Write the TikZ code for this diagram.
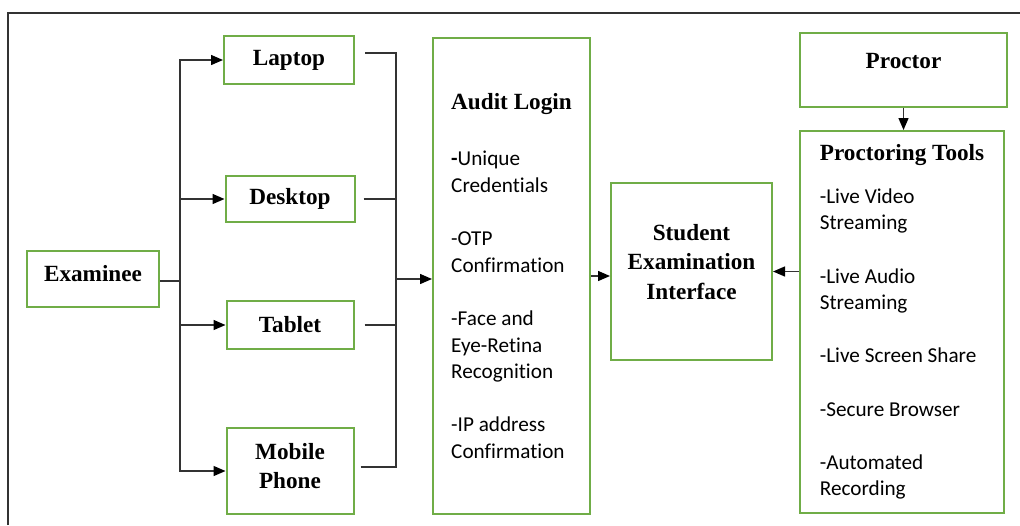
\documentclass[tikz,border=0pt]{standalone}
\usepackage{fontspec}
\setmainfont{Liberation Serif}
\newfontfamily\listfont{Carlito}[Ligatures=NoCommon]
\usetikzlibrary{arrows.meta}
\definecolor{boxgreen}{HTML}{70AD47}
\definecolor{linegray}{HTML}{333333}
\newcommand\headfont{\rmfamily\bfseries\fontsize{11.6}{14.6}\selectfont}

\begin{document}
\begin{tikzpicture}[x=0.5pt,y=-0.5pt,>={Triangle[length=6pt,width=5pt,color=black]},
                    main node/.style={draw=boxgreen,line width=1pt,inner sep=2pt,
                      font=\headfont,align=center},
                    list node/.style={main node,align=left,
                      font=\listfont\fontsize{10.6}{13.3}\selectfont},
                    link/.style={draw=linegray,line width=0.7pt}]
  \useasboundingbox (0,0) rectangle (1020,525);
  \draw[linegray,line width=0.75pt] (8,525) |- (1020,13);

  % sources and devices
  \node[main node,minimum width=66pt,minimum height=28pt,text depth=6pt] (examinee) at (93,279) {Examinee};
  \node[main node,minimum width=65pt,minimum height=24pt] (laptop) at (289,60) {Laptop};
  \node[main node,minimum width=64.5pt,minimum height=23pt] (desktop) at (290,199) {Desktop};
  \node[main node,minimum width=63.5pt,minimum height=24pt] (tablet) at (290,325) {Tablet};
  \node[main node,minimum width=63.5pt,minimum height=43pt,text depth=5pt] (mobile) at (290,471) {Mobile\\Phone};

  % login and interface
  \node[list node,minimum width=78.5pt,minimum height=238pt] (audit) at (511.5,276)
    {{\headfont Audit Login}\\[15pt]
     \textbf{-}Unique\\ Credentials\\[13.3pt]
     -OTP\\ Confirmation\\[13.3pt]
     -Face and\\ Eye-Retina\\ Recognition\\[13.3pt]
     -IP address\\ Confirmation};
  \node[main node,minimum width=80.5pt,minimum height=88.5pt,text depth=10pt,
        font=\rmfamily\bfseries\fontsize{11.6}{14.75}\selectfont] (iface) at (691.5,271.5)
    {Student\\Examination\\Interface};

  % proctor side
  \node[main node,minimum width=103.5pt,minimum height=37pt,text depth=9pt] (proctor) at (903.5,69.5) {Proctor};
  \node[list node,minimum width=102pt,minimum height=191pt] (tools) at (902,322)
    {{\headfont Proctoring Tools}\\[8pt]
     -Live Video\\ Streaming\\[13.3pt]
     -Live Audio\\ Streaming\\[13.3pt]
     -Live Screen Share\\[13.3pt]
     -Secure Browser\\[13.3pt]
     -Automated\\ Recording};

  \coordinate (split) at (180,281);
  \coordinate (merge) at (396,279);

  \draw[link] (examinee.east |- split) -- (split);
  \draw[link,->] (split) |- (laptop.west);
  \draw[link,->] (split) |- (desktop.west);
  \draw[link,->] (split) |- (tablet.west);
  \draw[link,->] (split) |- (mobile.west);

  \draw[link,shorten <=5pt] ([yshift=3.5pt]laptop.east) -| (merge);
  \draw[link,shorten <=4pt] (desktop.east) -| (merge);
  \draw[link,shorten <=5pt] (tablet.east) -| (merge);
  \draw[link,shorten <=3pt] ([yshift=2pt]mobile.east) -| (merge);
  \draw[link,->] (merge) -- (merge -| audit.west);

  \draw[link,->] (audit.east) -- (audit.east -| iface.west);
  \draw[link,->] (tools.west |- iface.east) -- (iface.east);
  \draw[link,->] (proctor.south) -- (proctor.south |- tools.north);
\end{tikzpicture}
\end{document}
